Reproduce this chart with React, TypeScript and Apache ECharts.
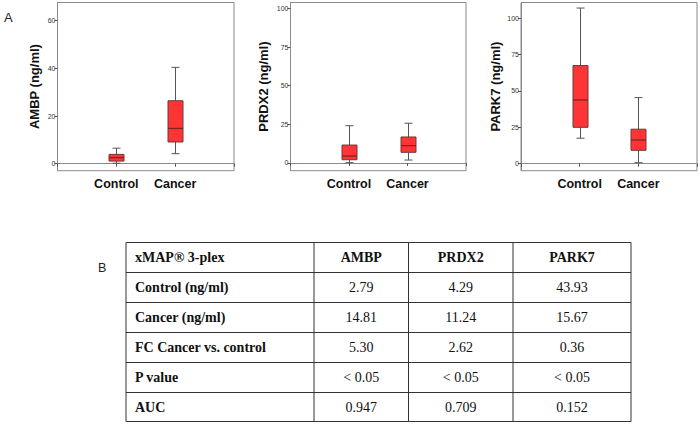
import React, { useEffect, useRef } from "react";
import * as echarts from "echarts";

// ---- Data ----
const categories = ["Control", "Cancer"];
// [min, Q1, median, Q3, max]
const ambpBoxes = [
  [0.2, 1.1, 2.5, 3.9, 6.5],
  [4.2, 9.1, 14.8, 26.4, 40.4],
];
const prdx2Boxes = [
  [0.2, 2.1, 4.5, 11.6, 24.1],
  [1.9, 6.9, 11.2, 16.8, 25.7],
];
const park7Boxes = [
  [17.5, 25.0, 43.8, 67.4, 106.9],
  [0.7, 9.2, 16.3, 23.7, 45.4],
];
const markerNames = ["AMBP", "PRDX2", "PARK7"];
const ambpTicks = [0, 20, 40, 60];
const prdx2Ticks = [0, 25, 50, 75, 100];
const park7Ticks = [0, 25, 50, 75, 100];

const tableTitle = "xMAP® 3-plex";
const rowLabels = ["Control (ng/ml)", "Cancer (ng/ml)", "FC Cancer vs. control", "P value", "AUC"];
const ambpStats = ["2.79", "14.81", "5.30", "< 0.05", "0.947"];
const prdx2Stats = ["4.29", "11.24", "2.62", "< 0.05", "0.709"];
const park7Stats = ["43.93", "15.67", "0.36", "< 0.05", "0.152"];

// ---- Layout ----
const grids = [
  { left: 57.5, top: 2.5, width: 176.5, height: 168.2 },
  { left: 290.5, top: 2.5, width: 175.5, height: 168.2 },
  { left: 521, top: 2.5, width: 176.5, height: 168.2 },
];
const yRanges = [
  [-2.94, 67.6],
  [-5.0, 103.8],
  [-4.8, 110.7],
];
const nameGaps = [17, 21, 19];

const colX = [126, 314, 408.5, 513, 631];
const rowY = [242.5, 272.5, 302.5, 332.5, 362.5, 392.5, 421.5];

const FRAME = "#8a8a8a";
const SANS = "'Liberation Sans', Arial, sans-serif";
const SERIF = "'Liberation Serif', 'Times New Roman', serif";

function boxRender(params: any, api: any) {
  const x = api.value(0);
  const p = [1, 2, 3, 4, 5].map((i) => api.coord([x, api.value(i)]));
  const cx = Math.round(p[0][0]) + 0.5;
  const hw = 7.5;
  const cw = 4;
  const lineStyle = { stroke: "#555555", lineWidth: 1 };
  return {
    type: "group",
    children: [
      { type: "line", shape: { x1: cx, y1: p[0][1], x2: cx, y2: p[1][1] }, style: lineStyle },
      { type: "line", shape: { x1: cx, y1: p[3][1], x2: cx, y2: p[4][1] }, style: lineStyle },
      { type: "line", shape: { x1: cx - cw, y1: p[0][1], x2: cx + cw, y2: p[0][1] }, style: lineStyle },
      { type: "line", shape: { x1: cx - cw, y1: p[4][1], x2: cx + cw, y2: p[4][1] }, style: lineStyle },
      {
        type: "rect",
        shape: { x: cx - hw, y: p[3][1], width: 2 * hw, height: p[1][1] - p[3][1] },
        style: { fill: "#ff3434", stroke: "#6a3a3a", lineWidth: 1 },
      },
      {
        type: "line",
        shape: { x1: cx - hw, y1: p[2][1], x2: cx + hw, y2: p[2][1] },
        style: { stroke: "#7a2222", lineWidth: 1.2 },
      },
    ],
  };
}

export default function App() {
  const ref = useRef<HTMLDivElement>(null);

  useEffect(() => {
    document.body.style.margin = "0";
    if (!ref.current) return;
    const chart = echarts.init(ref.current, null, { renderer: "svg" });

    const allBoxes = [ambpBoxes, prdx2Boxes, park7Boxes];
    const allTicks = [ambpTicks, prdx2Ticks, park7Ticks];

    const graphic: any[] = [];
    graphic.push({
      type: "text",
      left: 4,
      top: 11,
      style: { text: "A", fontSize: 13, fontFamily: SANS, fill: "#222" },
    });
    graphic.push({
      type: "text",
      left: 98,
      top: 261,
      style: { text: "B", fontSize: 12.5, fontFamily: SANS, fill: "#222" },
    });
    // table lines
    rowY.forEach((y) => {
      graphic.push({
        type: "line",
        shape: { x1: colX[0], y1: y, x2: colX[colX.length - 1], y2: y },
        style: { stroke: "#333", lineWidth: 1 },
      });
    });
    colX.forEach((x) => {
      graphic.push({
        type: "line",
        shape: { x1: x, y1: rowY[0], x2: x, y2: rowY[rowY.length - 1] },
        style: { stroke: "#333", lineWidth: 1 },
      });
    });
    const header = [tableTitle, ...markerNames];
    const columns = [rowLabels, ambpStats, prdx2Stats, park7Stats];
    const cell = (text: string, col: number, row: number, bold: boolean) => {
      const yMid = (rowY[row] + rowY[row + 1]) / 2;
      const left = col === 0;
      graphic.push({
        type: "text",
        x: left ? colX[0] + 9 : (colX[col] + colX[col + 1]) / 2,
        y: yMid,
        style: {
          text,
          fontSize: 14,
          fontFamily: SERIF,
          fontWeight: bold ? "bold" : "normal",
          fill: "#111",
          align: left ? "left" : "center",
          verticalAlign: "middle",
        },
      });
    };
    header.forEach((h, c) => cell(h, c, 0, true));
    columns.forEach((colVals, c) => {
      colVals.forEach((v, r) => cell(v, c, r + 1, c === 0));
    });

    chart.setOption({
      animation: false,
      grid: grids.map((g) => ({
        ...g,
        show: true,
        borderColor: FRAME,
        borderWidth: 1,
        backgroundColor: "transparent",
      })),
      xAxis: grids.map((_, i) => ({
        type: "value",
        gridIndex: i,
        min: 0,
        max: 3,
        interval: 1,
        splitLine: { show: false },
        axisLine: { show: true, lineStyle: { color: FRAME } },
        axisTick: { show: true, length: 3, lineStyle: { color: "#555" } },
        axisLabel: {
          margin: 7,
          fontSize: 12.5,
          fontWeight: "bold",
          fontFamily: SANS,
          color: "#111",
          showMinLabel: true,
          showMaxLabel: true,
          formatter: (v: number) => categories[v - 1] ?? "",
        },
      })),
      yAxis: grids.map((_, i) => ({
        type: "value",
        gridIndex: i,
        min: yRanges[i][0],
        max: yRanges[i][1],
        name: markerNames[i] + " (ng/ml)",
        nameLocation: "middle",
        nameGap: nameGaps[i],
        nameTextStyle: { fontSize: 13, fontWeight: "bold", fontFamily: SANS, color: "#111" },
        splitLine: { show: false },
        axisLine: { show: true, lineStyle: { color: FRAME } },
        axisTick: { show: true, length: 3, customValues: allTicks[i], lineStyle: { color: "#555" } },
        axisLabel: {
          margin: 2,
          fontSize: 7,
          fontFamily: SANS,
          color: "#333",
          customValues: allTicks[i],
        },
      })),
      series: allBoxes.map((boxes, i) => ({
        type: "custom",
        xAxisIndex: i,
        yAxisIndex: i,
        renderItem: boxRender,
        encode: { x: 0, y: [1, 2, 3, 4, 5] },
        data: boxes.map((b, k) => [k + 1, ...b]),
      })),
      graphic,
    });

    return () => chart.dispose();
  }, []);

  return <div ref={ref} style={{ width: 700, height: 425 }} />;
}
